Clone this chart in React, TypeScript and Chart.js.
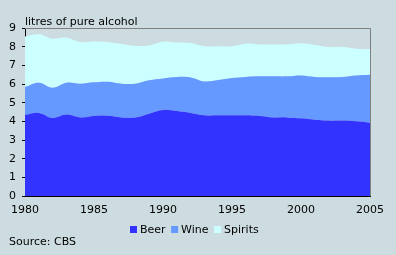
import React, { useEffect, useRef } from "react";
import { Chart, registerables } from "chart.js";

Chart.register(...registerables);

const years = [1980, 1981, 1982, 1983, 1984, 1985, 1986, 1987, 1988, 1989, 1990, 1991, 1992, 1993, 1994, 1995, 1996, 1997, 1998, 1999, 2000, 2001, 2002, 2003, 2004, 2005];
const beer = [4.34, 4.45, 4.18, 4.36, 4.21, 4.29, 4.3, 4.21, 4.21, 4.41, 4.61, 4.55, 4.45, 4.32, 4.32, 4.32, 4.32, 4.29, 4.21, 4.21, 4.16, 4.09, 4.04, 4.04, 4.0, 3.93];
const wine = [1.5, 1.62, 1.62, 1.71, 1.81, 1.8, 1.82, 1.81, 1.81, 1.79, 1.69, 1.83, 1.9, 1.82, 1.89, 2.0, 2.06, 2.12, 2.2, 2.2, 2.3, 2.29, 2.32, 2.34, 2.46, 2.57];
const spirits = [2.71, 2.59, 2.63, 2.41, 2.23, 2.19, 2.13, 2.12, 2.02, 1.88, 1.97, 1.84, 1.84, 1.88, 1.81, 1.7, 1.78, 1.71, 1.71, 1.71, 1.72, 1.71, 1.62, 1.6, 1.43, 1.37];
const seriesNames = ["Beer", "Wine", "Spirits"];
const seriesColors = ["#3333ff", "#6699ff", "#ccffff"];
const yTicks = [0, 1, 2, 3, 4, 5, 6, 7, 8, 9];
const xTicks = [1980, 1985, 1990, 1995, 2000, 2005];
const titleText = "litres of pure alcohol";
const sourceText = "Source: CBS";

const BG = "#cddce0";
const FONT = "DejaVu Sans";

const decorPlugin = {
  id: "decor",
  beforeDraw(chart: any) {
    const ctx = chart.ctx;
    ctx.save();
    ctx.fillStyle = BG;
    ctx.fillRect(0, 0, chart.width, chart.height);
    ctx.restore();
  },
  afterDraw(chart: any) {
    const ctx = chart.ctx;
    const a = chart.chartArea;
    ctx.save();
    // gray frame top/right
    ctx.strokeStyle = "#808080";
    ctx.lineWidth = 1;
    ctx.beginPath();
    ctx.moveTo(a.left, a.top + 0.5);
    ctx.lineTo(a.right + 0.5, a.top + 0.5);
    ctx.lineTo(a.right + 0.5, a.bottom);
    ctx.stroke();
    // title
    ctx.fillStyle = "#000";
    ctx.font = `11px "${FONT}"`;
    ctx.textBaseline = "alphabetic";
    ctx.textAlign = "left";
    ctx.fillText(titleText, a.left, 25);
    // source
    ctx.fillText(sourceText, 9, 244.5);
    // legend
    const gapBox = 3;
    const gapItem = 5.5;
    const box = 7;
    const widths = seriesNames.map((n) => ctx.measureText(n).width);
    let total = 0;
    widths.forEach((w, i) => {
      total += box + gapBox + w + (i < widths.length - 1 ? gapItem : 0);
    });
    let x = Math.round(194 - total / 2);
    seriesNames.forEach((n, i) => {
      ctx.fillStyle = seriesColors[i];
      ctx.fillRect(x, 226, box, box);
      ctx.fillStyle = "#000";
      ctx.fillText(n, x + box + gapBox, 232.7);
      x += box + gapBox + widths[i] + gapItem;
    });
    ctx.restore();
  },
};

export default function App() {
  const ref = useRef<HTMLCanvasElement | null>(null);
  useEffect(() => {
    if (!ref.current) return;
    const mk = (arr: number[]) => arr.map((v, i) => ({ x: years[i], y: v }));
    const series = [beer, wine, spirits];
    const chart = new Chart(ref.current, {
      type: "line",
      data: {
        datasets: series.map((s, i) => ({
          label: seriesNames[i],
          data: mk(s),
          backgroundColor: seriesColors[i],
          borderColor: seriesColors[i],
          borderWidth: 0,
          pointRadius: 0,
          tension: 0.4,
          fill: i === 0 ? "origin" : "-1",
        })),
      },
      options: {
        animation: false,
        responsive: false,
        devicePixelRatio: 1,
        layout: { padding: { top: 28, right: 26, left: 0, bottom: 0 } },
        plugins: { legend: { display: false }, tooltip: { enabled: false }, title: { display: false } },
        scales: {
          x: {
            type: "linear",
            min: 1980,
            max: 2005,
            afterFit: (s: any) => {
              s.height = 59;
            },
            afterBuildTicks: (s: any) => {
              s.ticks = xTicks.map((v) => ({ value: v }));
            },
            grid: { display: true, drawOnChartArea: false, drawTicks: false, color: "#000" },
            border: { display: true, color: "#000", width: 1 },
            ticks: {
              color: "#000",
              font: { family: FONT, size: 11 },
              padding: 8,
              maxRotation: 0,
              autoSkip: false,
              callback: (v: any) => String(v),
            },
          },
          y: {
            stacked: true,
            min: 0,
            max: 9,
            afterFit: (s: any) => {
              s.width = 25;
            },
            afterBuildTicks: (s: any) => {
              s.ticks = yTicks.map((v) => ({ value: v }));
            },
            grid: { display: true, drawOnChartArea: false, drawTicks: true, tickLength: 3, color: "#000" },
            border: { display: true, color: "#000", width: 1 },
            ticks: {
              color: "#000",
              font: { family: FONT, size: 11 },
              padding: 6,
              callback: (v: any) => String(v),
            },
          },
        },
      },
      plugins: [decorPlugin],
    } as any);
    return () => chart.destroy();
  }, []);
  return (
    <div style={{ position: "absolute", left: 0, top: 0, width: 396, height: 255, background: BG }}>
      <canvas ref={ref} width={396} height={255} style={{ display: "block", width: 396, height: 255 }} />
    </div>
  );
}
